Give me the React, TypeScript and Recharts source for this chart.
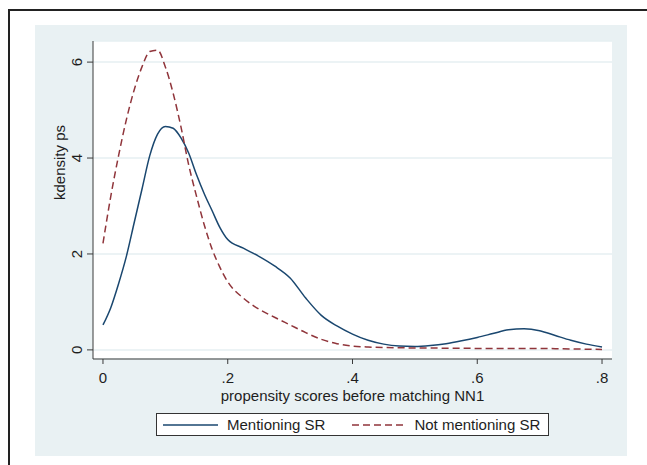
import React from 'react';
import { LineChart, Line, XAxis, YAxis, CartesianGrid, Legend } from 'recharts';

// --- data ---
const scores = [
  0, 0.0125, 0.025, 0.0375, 0.05, 0.0625, 0.075, 0.0875, 0.1, 0.1125, 0.125, 0.1375, 0.15, 0.1625, 0.175,
  0.1875, 0.2, 0.225, 0.25, 0.275, 0.3, 0.325, 0.35, 0.375, 0.4, 0.425, 0.45, 0.475, 0.5, 0.525, 0.55,
  0.575, 0.6, 0.625, 0.65, 0.675, 0.7, 0.725, 0.75, 0.775, 0.8,
];
const mentioning = [
  0.52, 0.88, 1.38, 1.95, 2.65, 3.35, 4.05, 4.5, 4.66, 4.62, 4.42, 4.1, 3.65, 3.25, 2.9,
  2.55, 2.3, 2.12, 1.95, 1.75, 1.5, 1.08, 0.72, 0.5, 0.33, 0.2, 0.12, 0.08, 0.07, 0.09, 0.13,
  0.19, 0.26, 0.34, 0.42, 0.44, 0.4, 0.3, 0.2, 0.12, 0.06,
];
const notMentioning = [
  2.22, 3.2, 4.05, 4.8, 5.42, 5.9, 6.22, 6.25, 5.9, 5.35, 4.65, 3.85, 3.2, 2.6, 2.1,
  1.72, 1.42, 1.08, 0.85, 0.68, 0.52, 0.36, 0.22, 0.13, 0.08, 0.06, 0.05, 0.045, 0.04, 0.04, 0.035,
  0.035, 0.03, 0.03, 0.03, 0.03, 0.03, 0.025, 0.02, 0.015, 0.01,
];
const xTicks = [0, 0.2, 0.4, 0.6, 0.8];
const yTicks = [0, 2, 4, 6];

const data = scores.map((x, i) => ({ x, m: mentioning[i], n: notMentioning[i] }));

const colors = {
  blue: '#1a476f',
  red: '#90353b',
  panel: '#e9f1f3',
  grid: '#e6eff2',
  axis: '#3a3a3a',
  text: '#1e1e1e',
};
const font = '"Liberation Sans", Arial, sans-serif';

const fmtX = (v: number) => (v === 0 ? '0' : String(v).replace(/^0/, ''));

// stata draws y labels turned on their side
const YTick = (props: any) => {
  const { x, y, payload } = props;
  const bx = x + 3;
  return (
    <text
      x={bx}
      y={y}
      transform={`rotate(-90, ${bx}, ${y})`}
      textAnchor="middle"
      fontSize={15}
      fontFamily={font}
      fill={colors.text}
    >
      {payload.value}
    </text>
  );
};

const LegendBox = () => (
  <div
    style={{
      width: 391,
      height: 21,
      border: '1px solid #333',
      background: '#fff',
      display: 'flex',
      alignItems: 'center',
      fontFamily: font,
      fontSize: 15,
      color: colors.text,
      boxSizing: 'content-box',
    }}
  >
    <svg width={55} height={4} style={{ marginLeft: 6 }}>
      <line x1={0} y1={2} x2={55} y2={2} stroke={colors.blue} strokeWidth={1.5} />
    </svg>
    <span style={{ marginLeft: 9 }}>Mentioning SR</span>
    <svg width={53} height={4} style={{ marginLeft: 27 }}>
      <line x1={0} y1={2} x2={53} y2={2} stroke={colors.red} strokeWidth={1.5} strokeDasharray="7 4" />
    </svg>
    <span style={{ marginLeft: 9 }}>Not mentioning SR</span>
  </div>
);

export default function App() {
  return (
    <div style={{ position: 'absolute', left: 0, top: 0, width: 647, height: 465, background: '#fff', overflow: 'hidden' }}>
      {/* outer frame, only left and top edges show */}
      <div style={{ position: 'absolute', left: 8, top: 9, width: 700, height: 500, borderLeft: '2px solid #222', borderTop: '2px solid #222' }} />
      {/* graph region */}
      <div style={{ position: 'absolute', left: 35, top: 25, width: 592, height: 431, background: colors.panel }} />
      <div style={{ position: 'absolute', left: 0, top: 0 }}>
        <LineChart width={647} height={465} data={data} margin={{ top: 41, right: 35, bottom: 76, left: 0 }}>
          <CartesianGrid vertical={false} stroke={colors.grid} strokeWidth={1.5} fill="#fff" />
          <XAxis
            dataKey="x"
            type="number"
            domain={[-0.016, 0.816]}
            allowDataOverflow
            ticks={xTicks}
            tickFormatter={fmtX}
            height={30}
            tickSize={5}
            tickMargin={8}
            stroke={colors.axis}
            tick={{ fontSize: 15, fontFamily: font, fill: colors.text }}
            label={{
              value: 'propensity scores before matching NN1',
              position: 'insideBottom',
              offset: -12,
              fontSize: 15,
              fontFamily: font,
              fill: colors.text,
            }}
          />
          <YAxis
            type="number"
            domain={[-0.19, 6.44]}
            allowDataOverflow
            ticks={yTicks}
            width={93}
            tickSize={6}
            tickMargin={8}
            stroke={colors.axis}
            tick={<YTick />}
            label={{
              value: 'kdensity ps',
              angle: -90,
              position: 'insideLeft',
              offset: 60,
              fontSize: 15,
              fontFamily: font,
              fill: colors.text,
            }}
          />
          <Legend
            verticalAlign="middle"
            align="center"
            content={<LegendBox />}
            wrapperStyle={{ left: 156, top: 413, width: 393, height: 23 }}
          />
          <Line type="monotone" dataKey="m" stroke={colors.blue} strokeWidth={1.5} dot={false} isAnimationActive={false} />
          <Line
            type="monotone"
            dataKey="n"
            stroke={colors.red}
            strokeWidth={1.5}
            strokeDasharray="7 4"
            dot={false}
            isAnimationActive={false}
          />
        </LineChart>
      </div>
    </div>
  );
}
